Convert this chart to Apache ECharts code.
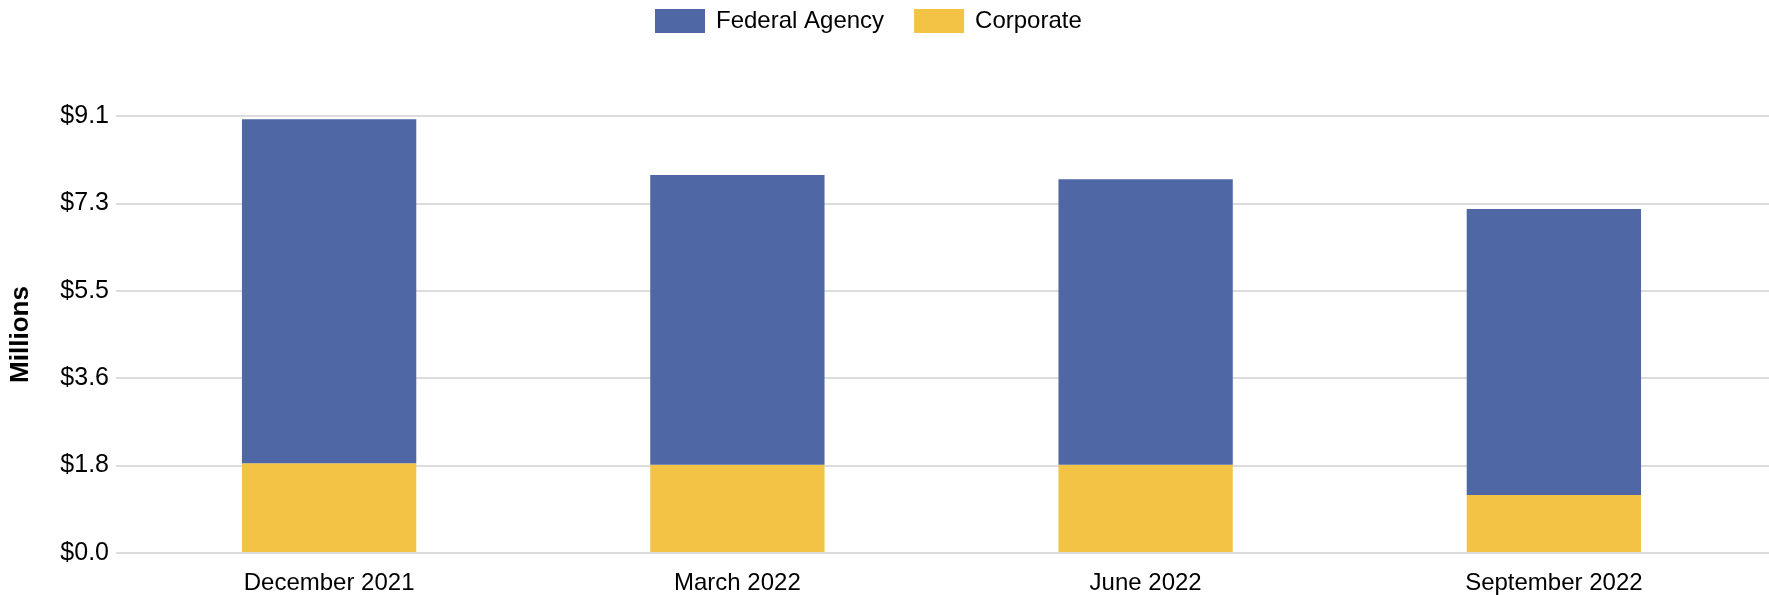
<!DOCTYPE html>
<html>
<head>
<meta charset="utf-8">
<script src="https://cdn.jsdelivr.net/npm/echarts@6/dist/echarts.min.js"></script>
<style>
  html, body { margin: 0; padding: 0; background: #fff; }
  #chart { width: 1769px; height: 595px; }
</style>
</head>
<body>
<div id="chart"></div>
<script>
// quarters on the x axis
var categories = ['December 2021', 'March 2022', 'June 2022', 'September 2022']
// millions of dollars, stacked
var corporate = [1.85, 1.82, 1.82, 1.19]
var federalAgency = [7.18, 6.05, 5.96, 5.97]
// y axis runs 0 .. 9.1 in five steps ($0.0 $1.8 $3.6 $5.5 $7.3 $9.1)
var yMax = 9.1
var ySteps = 5

var chart = echarts.init(document.getElementById('chart'))

var font = 'Liberation Sans, Arial, sans-serif'

var option = {
  animation: false,
  legend: {
    top: 4,
    left: 650,
    itemWidth: 50,
    itemHeight: 24,
    itemGap: 30,
    icon: 'rect',
    textStyle: { fontFamily: font, fontSize: 24, color: '#000', padding: [0, 0, 0, 6] },
    data: ['Federal Agency', 'Corporate']
  },
  grid: [
    // gridlines + y labels (lines run a bit wider than the bar area)
    { left: 115, right: 0, top: 116, bottom: 42 },
    // bars
    { left: 125, right: 11, top: 116, bottom: 42 }
  ],
  xAxis: [
    { type: 'category', gridIndex: 0, data: categories, show: false },
    {
      type: 'category',
      gridIndex: 1,
      data: categories,
      axisLine: { show: false },
      axisTick: { show: false },
      axisLabel: { fontFamily: font, fontSize: 24, color: '#000', margin: 19 }
    }
  ],
  yAxis: [
    {
      type: 'value',
      gridIndex: 0,
      min: 0,
      max: yMax,
      interval: yMax / ySteps,
      name: 'Millions',
      nameLocation: 'middle',
      nameGap: 82,
      nameTextStyle: { fontFamily: font, fontSize: 26, fontWeight: 'bold', color: '#000' },
      axisLine: { show: false },
      axisTick: { show: false },
      axisLabel: {
        fontFamily: font,
        fontSize: 25,
        color: '#000',
        margin: 7,
        formatter: function (v) { return '$' + v.toFixed(1) }
      },
      splitLine: { lineStyle: { color: '#dcdcdc', width: 2 } }
    },
    {
      type: 'value',
      gridIndex: 1,
      min: 0,
      max: yMax,
      interval: yMax / ySteps,
      show: false,
      splitLine: { show: false }
    }
  ],
  series: [
    {
      name: 'Corporate',
      type: 'bar',
      stack: 'total',
      xAxisIndex: 1,
      yAxisIndex: 1,
      barWidth: '42.7%',
      itemStyle: { color: '#f2c344' },
      data: corporate
    },
    {
      name: 'Federal Agency',
      type: 'bar',
      stack: 'total',
      xAxisIndex: 1,
      yAxisIndex: 1,
      barWidth: '42.7%',
      itemStyle: { color: '#4f68a5' },
      data: federalAgency
    }
  ]
}

chart.setOption(option)
</script>
</body>
</html>
